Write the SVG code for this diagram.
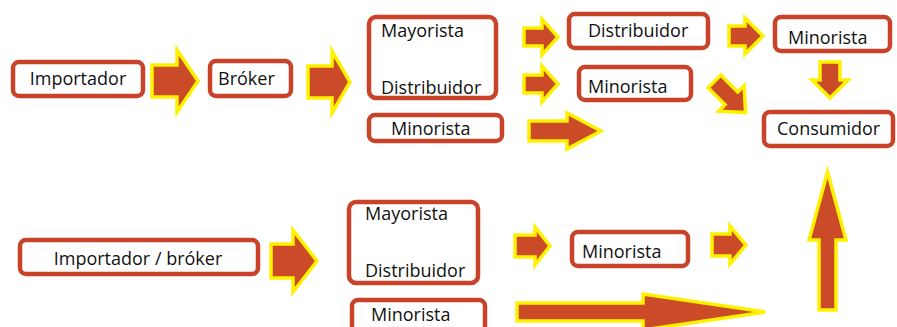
<svg xmlns="http://www.w3.org/2000/svg" width="897" height="327" viewBox="0 0 897 327">
<style>
.box{fill:#fff;stroke:#C9432A;stroke-width:4.5}
.t{font-family:"Open Sans","Liberation Sans",sans-serif;font-size:18px;fill:#111}
.arr{fill:#CB4A28;stroke:#FFF200;stroke-width:3.5;stroke-linejoin:miter}
</style>
<rect width="897" height="327" fill="#fff"/>
<g id="connectors">
<polygon class="arr" points="152,65 177,65 177,50 198,81 177,112 177,97 152,97"/>
<polygon class="arr" points="308,66 332,66 332,51 350,82 332,113 332,98 308,98"/>
<polygon class="arr" points="524,28 542,28 542,19 558,37 542,55 542,46 524,46"/>
<polygon class="arr" points="524,75 542,75 542,66 558,84 542,102 542,93 524,93"/>
<polygon class="arr" points="529,121 567,121 567,113 601,131 567,149 567,141 529,141"/>
<polygon class="arr" points="729,26 745,26 745,18 763,36 745,54 745,46 729,46"/>
<polygon class="arr" points="820,62 840,62 840,80 848,80 830,98 812,80 820,80"/>
<polygon class="arr" points="-22,-9 2,-9 2,-18 22,0 2,18 2,9 -22,9" transform="translate(730,97) rotate(45)"/>
<polygon class="arr" points="271,244 293,244 293,230 317,261 293,292 293,278 271,278"/>
<polygon class="arr" points="515,235 535,235 535,227 550,246 535,265 535,257 515,257"/>
<polygon class="arr" points="712,234 730,234 730,226 746,245 730,264 730,256 712,256"/>
<polygon class="arr" points="819,310 836,310 836,240 846,240 827.5,172 809,240 819,240"/>
<polygon class="arr" points="517,303 643,303 643,294 765,312 643,330 643,321 517,321"/>
</g>
<g id="importador"><rect class="box" x="13" y="62" width="130" height="34" rx="6"/><text class="t" x="78" y="85" text-anchor="middle">Importador</text></g>
<g id="broker"><rect class="box" x="210" y="61" width="81" height="35" rx="6"/><text class="t" x="218" y="85">Bróker</text></g>
<g id="mayorista-distribuidor-1"><rect class="box" x="369" y="17" width="127" height="81" rx="7"/><text class="t" x="381" y="37">Mayorista</text><text class="t" x="381" y="94">Distribuidor</text></g>
<g id="minorista-1"><rect class="box" x="369" y="115" width="133" height="26" rx="6"/><text class="t" x="391" y="135">Minorista</text></g>
<g id="distribuidor-2"><rect class="box" x="569" y="14" width="139" height="34" rx="6"/><text class="t" x="588" y="37">Distribuidor</text></g>
<g id="minorista-2"><rect class="box" x="579" y="67" width="112" height="33" rx="6"/><text class="t" x="588" y="93">Minorista</text></g>
<g id="minorista-3"><rect class="box" x="775" y="17" width="115" height="34" rx="6"/><text class="t" x="788" y="44">Minorista</text></g>
<g id="consumidor"><rect class="box" x="764" y="112" width="129" height="34" rx="6"/><text class="t" x="777" y="135">Consumidor</text></g>
<g id="importador-broker"><rect class="box" x="20" y="240" width="238" height="34" rx="6"/><text class="t" x="138" y="265" text-anchor="middle">Importador / bróker</text></g>
<g id="mayorista-distribuidor-2"><rect class="box" x="349" y="202" width="129" height="81" rx="7"/><text class="t" x="365" y="220">Mayorista</text><text class="t" x="365" y="277">Distribuidor</text></g>
<g id="minorista-4"><rect class="box" x="352" y="300" width="133" height="34" rx="6"/><text class="t" x="371" y="321">Minorista</text></g>
<g id="minorista-5"><rect class="box" x="572" y="232" width="116" height="34" rx="6"/><text class="t" x="582" y="258">Minorista</text></g>
</svg>
